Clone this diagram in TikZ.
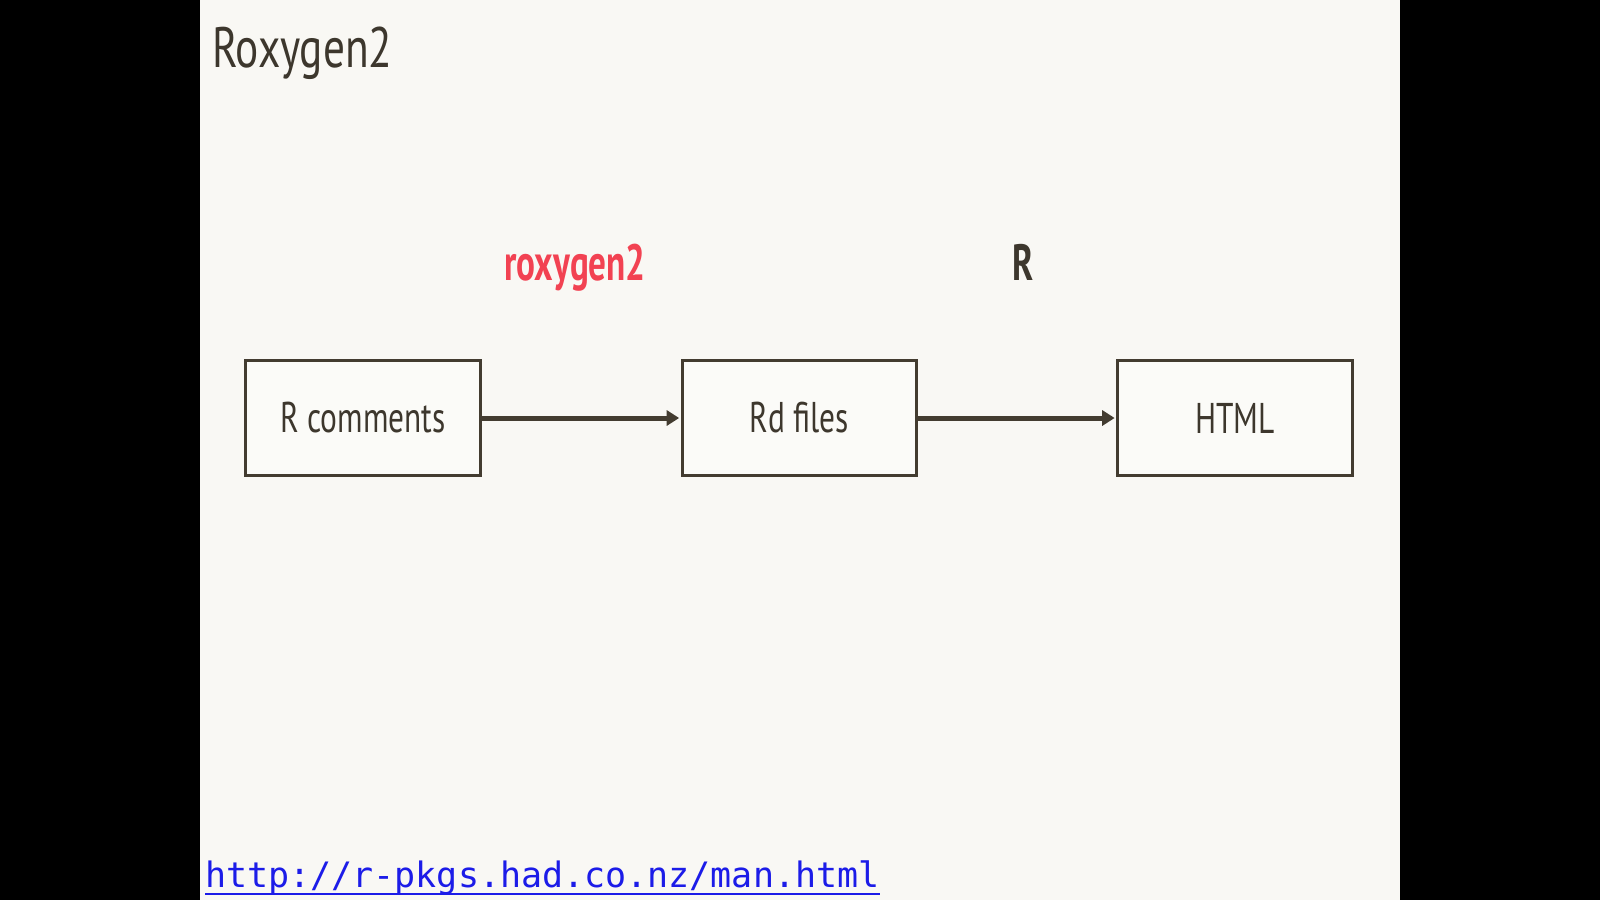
\documentclass[tikz,border=0pt]{standalone}
\usepackage{fontspec}
\setmainfont{PT Sans}[FakeStretch=0.73, BoldFeatures={FakeStretch=0.69}]
\newfontfamily\titlefont{PT Sans}[FakeStretch=0.76]
\setmonofont{DejaVu Sans Mono}
\usetikzlibrary{arrows.meta}
\definecolor{slidebg}{RGB}{249,248,244}
\definecolor{ink}{RGB}{61,55,45}
\definecolor{boxline}{RGB}{67,60,48}
\definecolor{redlabel}{RGB}{242,66,82}
\definecolor{linkblue}{RGB}{28,28,232}
\begin{document}
\begin{tikzpicture}[x=1pt,y=-1pt,
  stagebox/.style={draw=boxline, line width=3.2pt, fill=slidebg!60!white, minimum width=234.5pt, minimum height=114.4pt, inner sep=0pt, text=ink, font=\fontsize{43}{48}\selectfont},
  flow/.style={draw=boxline, line width=5pt, -{Triangle[length=12.5pt,width=15pt]}, shorten >=1.5pt},
  steplabel/.style={anchor=base, font=\bfseries\fontsize{51}{56}\selectfont}
]
\useasboundingbox (0,0) rectangle (1600,900);
\fill[black] (0,0) rectangle (1600,900);
\fill[slidebg] (200,0) rectangle (1400,900);
\node[anchor=base west, text=ink, inner sep=0pt, font=\titlefont\fontsize{57}{62}\selectfont] (title) at (212,67) {Roxygen2};
\node[stagebox] (rc) at (362.9,418) {R comments};
\node[stagebox] (rd) at (799.5,418) {Rd files};
\node[stagebox] (html) at (1235,418) {HTML};
\draw[flow] (rc.east) -- (rd.west);
\draw[flow] (rd.east) -- (html.west);
\node[steplabel, text=redlabel] (lab1) at (575,280) {roxygen2};
\node[steplabel, text=ink] (lab2) at (1023,280) {R};
\node[anchor=base west, inner sep=0pt, text=linkblue, font=\ttfamily\fontsize{35}{38}\selectfont] (url) at (205,887) {http://r-pkgs.had.co.nz/man.html};
\draw[linkblue, line width=2pt] (205,894) -- (url.base east |- 0,894);
\end{tikzpicture}
\end{document}
